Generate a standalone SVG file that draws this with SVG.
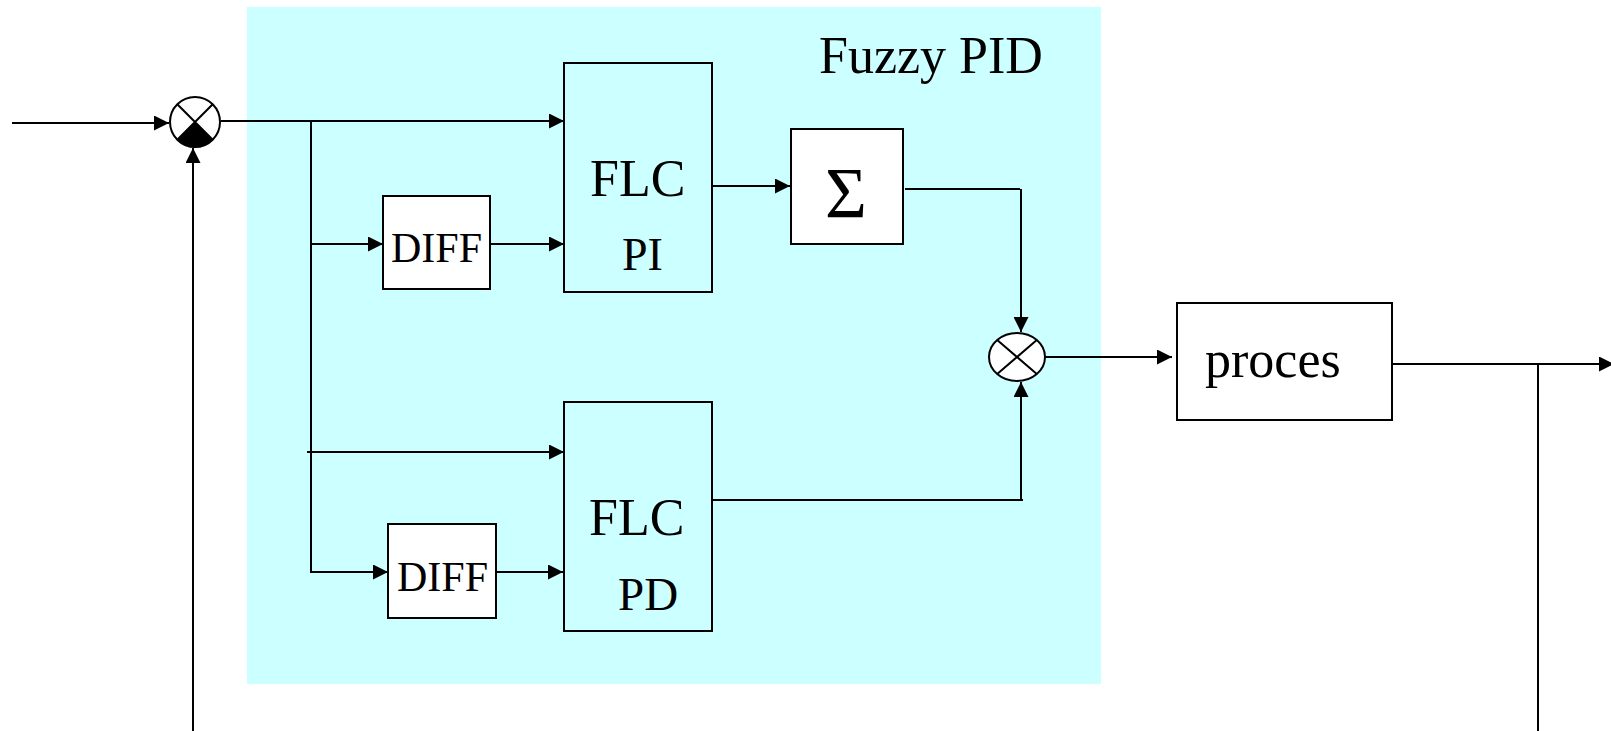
<svg xmlns="http://www.w3.org/2000/svg" width="1611" height="731" viewBox="0 0 1611 731">
<style>
.box{stroke:#000;stroke-width:2;}
.t{font-family:"Liberation Serif","Times New Roman",serif;fill:#000;}
.c{fill:none;stroke:#000;stroke-width:2;}
</style>
<defs>
<marker id="ah" viewBox="0 0 15 15" refX="15" refY="7.5" markerWidth="15" markerHeight="15" markerUnits="userSpaceOnUse" orient="auto">
<path d="M0,0 L15,7.5 L0,15 z" fill="#000"/>
</marker>
</defs>
<rect width="1611" height="731" fill="#fff"/>
<g id="fuzzy-pid">
<rect x="247" y="7" width="854" height="677" fill="#ccffff"/>
<text class="t" x="819" y="73" font-size="52">Fuzzy PID</text>
</g>
<g id="connectors">
<path class="c" d="M12,123 H169" marker-end="url(#ah)"/>
<path class="c" d="M193,731 V148" marker-end="url(#ah)"/>
<path class="c" d="M221,121 H564" marker-end="url(#ah)"/>
<path class="c" d="M311,121 V572 H388" marker-end="url(#ah)"/>
<path class="c" d="M311,244 H383" marker-end="url(#ah)"/>
<path class="c" d="M491,244 H564" marker-end="url(#ah)"/>
<path class="c" d="M307,452 H564" marker-end="url(#ah)"/>
<path class="c" d="M497,572 H563" marker-end="url(#ah)"/>
<path class="c" d="M713,186 H790" marker-end="url(#ah)"/>
<path class="c" d="M905,189 H1020"/>
<path class="c" d="M1021,189 V332" marker-end="url(#ah)"/>
<path class="c" d="M712,500 H1023"/>
<path class="c" d="M1021,501 V382" marker-end="url(#ah)"/>
<path class="c" d="M1045,357 H1172" marker-end="url(#ah)"/>
<path class="c" d="M1393,364 H1614" marker-end="url(#ah)"/>
<path class="c" d="M1538,364 V731"/>
</g>
<g id="sum-input">
<circle cx="195" cy="122" r="25" fill="#fff" stroke="#000" stroke-width="2"/>
<path d="M195,122 L212.7,139.7 A25,25 0 0 1 177.3,139.7 Z" fill="#000"/>
<path class="c" d="M177.3,104.3 L212.7,139.7 M212.7,104.3 L177.3,139.7"/>
</g>
<g id="flc-pi">
<rect class="box" x="564" y="63" width="148" height="229" fill="#ccffff"/>
<text class="t" x="590" y="196" font-size="52">FLC</text>
<text class="t" x="622" y="270" font-size="46">PI</text>
</g>
<g id="diff1">
<rect class="box" x="383" y="196" width="107" height="93" fill="#fff"/>
<text class="t" x="391" y="262" font-size="42">DIFF</text>
</g>
<g id="sigma">
<rect class="box" x="791" y="129" width="112" height="115" fill="#fff"/>
<text class="t" x="846" y="217" font-size="72" text-anchor="middle">Σ</text>
</g>
<g id="flc-pd">
<rect class="box" x="564" y="402" width="148" height="229" fill="#ccffff"/>
<text class="t" x="589" y="535" font-size="52">FLC</text>
<text class="t" x="618" y="610" font-size="47">PD</text>
</g>
<g id="diff2">
<rect class="box" x="388" y="524" width="108" height="94" fill="#fff"/>
<text class="t" x="397" y="591" font-size="42">DIFF</text>
</g>
<g id="mult">
<ellipse cx="1017" cy="357" rx="28" ry="24" fill="#fff" stroke="#000" stroke-width="2"/>
<path class="c" d="M997.2,340 L1036.8,374 M1036.8,340 L997.2,374"/>
</g>
<g id="proces">
<rect class="box" x="1177" y="303" width="215" height="117" fill="#fff"/>
<text class="t" x="1205" y="377" font-size="52">proces</text>
</g>
</svg>
